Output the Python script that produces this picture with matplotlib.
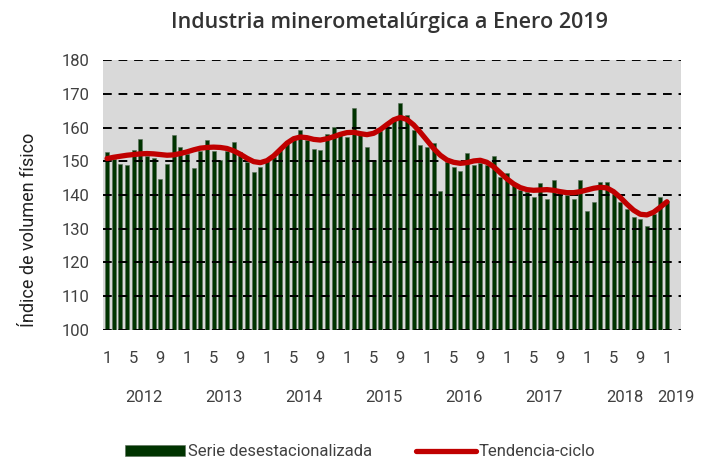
import numpy as np
import matplotlib.pyplot as plt

# indice de volumen fisico, ene 2012 - ene 2019
serie = [152.9, 150.6, 149.3, 149.0, 153.3, 156.5, 151.5, 151.0, 144.8, 149.3, 157.8, 154.1,
         152.3, 147.9, 153.0, 156.3, 153.0, 150.5, 153.0, 155.7, 152.8, 149.8, 146.9, 148.2,
         150.2, 151.3, 153.5, 155.5, 157.0, 159.4, 156.3, 153.6, 153.3, 158.2, 160.2, 158.2,
         157.2, 165.9, 158.7, 154.1, 150.3, 159.0, 160.4, 162.8, 167.4, 163.7, 159.2, 154.8,
         154.1, 155.3, 141.2, 149.8, 148.3, 147.1, 152.5, 148.8, 149.5, 148.8, 151.5, 145.3,
         146.5, 143.3, 141.6, 140.8, 139.4, 143.7, 138.8, 144.6, 140.6, 140.1, 138.8, 144.4,
         135.2, 137.8, 143.8, 143.9, 140.4, 138.0, 136.0, 133.5, 132.8, 130.9, 134.3, 139.5,
         138.1]
tendencia = [150.8, 151.2, 151.5, 151.8, 152.0, 152.2, 152.3, 152.2, 152.0, 151.8, 151.9, 152.3,
             152.8, 153.4, 153.9, 154.1, 154.2, 154.1, 153.8, 153.1, 152.1, 150.9, 149.9, 149.6,
             150.2, 151.6, 153.5, 155.4, 156.7, 157.2, 157.0, 156.5, 156.3, 156.7, 157.3, 158.0,
             158.5, 158.6, 158.2, 157.9, 158.3, 159.4, 160.9, 162.3, 163.0, 162.4, 160.8, 158.6,
             156.2, 153.8, 151.8, 150.4, 149.7, 149.4, 149.6, 150.1, 150.3, 149.7, 148.4, 146.6,
             144.8, 143.3, 142.2, 141.6, 141.4, 141.5, 141.6, 141.4, 141.0, 140.7, 140.7, 141.0,
             141.5, 142.0, 142.3, 142.1, 141.0, 139.3, 137.3, 135.5, 134.3, 134.1, 134.9, 136.4,
             138.0]
anios = ["2012", "2013", "2014", "2015", "2016", "2017", "2018", "2019"]
pos_anios = [5.5, 17.5, 29.5, 41.5, 53.5, 65.5, 77.7, 85.3]

meses = np.arange(len(serie))
etiquetas_mes = [str(m % 12 + 1) for m in meses[::4]]

plt.rcParams['font.family'] = ['Roboto', 'DejaVu Sans']
gris = '#404040'

fig = plt.figure(figsize=(7.13, 4.66), dpi=100)
ax = fig.add_axes([0.1445, 0.292, 0.8105, 0.579])
ax.set_facecolor('#d9d9d9')

barras = ax.bar(meses, np.array(serie) - 100, bottom=100, width=0.6, color='#003300',
                edgecolor='#5a6e5a', linewidth=0.4, zorder=2)
linea, = ax.plot(meses, tendencia, color='#c00000', linewidth=3.8, solid_capstyle='round',
                 zorder=4)

for v in range(100, 181, 10):
    ax.axhline(v, color='black', linewidth=1.4, dashes=(4.5, 3.5), zorder=3)

ax.set_ylim(100, 180)
ax.set_xlim(-0.6, 86.1)
ax.set_yticks(range(100, 181, 10))
ax.set_xticks(meses[::4])
ax.set_xticklabels(etiquetas_mes)
for s in ax.spines.values():
    s.set_visible(False)
ax.tick_params(length=0, labelsize=12, colors=gris, pad=10)
ax.tick_params(axis='x', pad=15)

for a, p in zip(anios, pos_anios):
    ax.text(p, -0.25, a, transform=ax.get_xaxis_transform(), ha='center', va='center',
            fontsize=12, color=gris)

ax.set_ylabel('Índice de volumen físico', fontsize=13, color='#202020')
ax.yaxis.set_label_coords(-0.112, 0.37)
fig.text(0.546, 0.952, 'Industria minerometalúrgica a Enero 2019', ha='center', va='center',
         fontsize=15.5, fontweight='semibold', color='#333333',
         family=['Open Sans', 'DejaVu Sans'])

ax.legend([barras, linea], ['Serie desestacionalizada', 'Tendencia-ciclo'],
          loc='center', bbox_to_anchor=(0.445, -0.452), ncol=2, frameon=False, fontsize=12,
          handlelength=3.6, handleheight=0.6, columnspacing=2.6, handletextpad=0.2,
          labelcolor=gris)

fig.savefig('out.png', dpi=100)
